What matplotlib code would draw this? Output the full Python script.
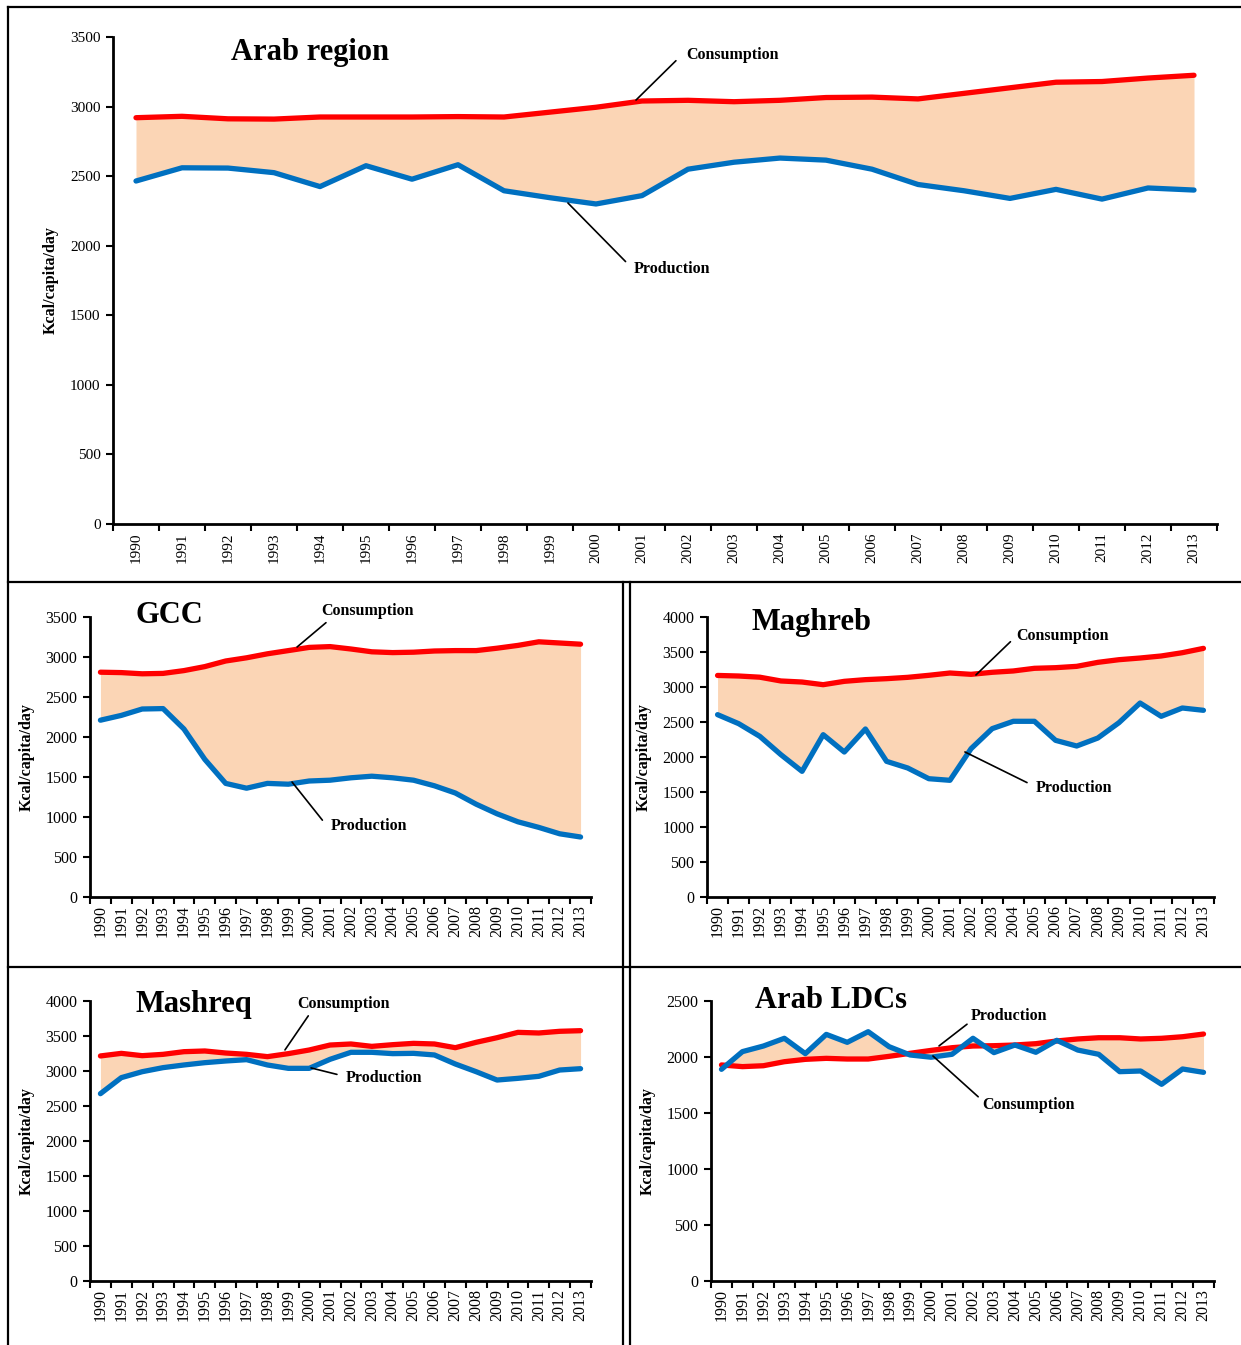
import numpy as np
import matplotlib.pyplot as plt
from matplotlib.lines import Line2D
from matplotlib.ticker import FixedLocator

plt.rcParams['font.family'] = ['Liberation Serif', 'DejaVu Serif']

years = [str(y) for y in range(1990, 2014)]

# Arab region
arab_cons = [2920, 2930, 2912, 2910, 2925, 2925, 2925, 2928, 2925, 2960, 2995, 3040,
             3045, 3035, 3045, 3065, 3068, 3055, 3095, 3135, 3175, 3180, 3205, 3225]
arab_prod = [2465, 2560, 2558, 2525, 2425, 2575, 2478, 2582, 2395, 2345, 2300, 2360,
             2550, 2600, 2630, 2615, 2550, 2440, 2395, 2340, 2405, 2335, 2415, 2400]

# GCC
gcc_cons = [2810, 2805, 2790, 2795, 2830, 2880, 2950, 2990, 3040, 3080, 3120, 3130,
            3100, 3065, 3055, 3060, 3075, 3080, 3080, 3110, 3145, 3190, 3175, 3160]
gcc_prod = [2210, 2270, 2350, 2355, 2100, 1720, 1420, 1360, 1420, 1410, 1450, 1460,
            1490, 1510, 1490, 1460, 1390, 1300, 1160, 1040, 940, 870, 790, 750]

# Maghreb
magh_cons = [3165, 3157, 3140, 3086, 3071, 3033, 3081, 3105, 3119, 3138, 3167, 3200,
             3181, 3210, 3229, 3267, 3276, 3295, 3352, 3390, 3414, 3443, 3490, 3552]
magh_prod = [2605, 2476, 2295, 2033, 1795, 2319, 2071, 2400, 1938, 1843, 1690, 1667,
             2119, 2405, 2510, 2510, 2238, 2157, 2271, 2490, 2771, 2581, 2700, 2667]

# Mashreq
mash_cons = [3215, 3252, 3219, 3238, 3276, 3286, 3257, 3238, 3205, 3248, 3300, 3371,
             3386, 3352, 3376, 3395, 3386, 3333, 3410, 3476, 3552, 3543, 3567, 3576]
mash_prod = [2676, 2905, 2990, 3048, 3086, 3119, 3143, 3162, 3086, 3038, 3038, 3167,
             3267, 3267, 3248, 3252, 3229, 3100, 2990, 2871, 2895, 2924, 3014, 3033]

# Arab LDCs
ldc_cons = [1929, 1914, 1922, 1958, 1979, 1988, 1982, 1982, 2006, 2033, 2059, 2083,
            2098, 2101, 2107, 2119, 2143, 2161, 2172, 2172, 2161, 2167, 2181, 2205]
ldc_prod = [1890, 2048, 2098, 2167, 2030, 2202, 2131, 2226, 2092, 2018, 1998, 2024,
            2167, 2039, 2107, 2042, 2149, 2062, 2024, 1869, 1875, 1756, 1893, 1863]

W, H = 1241, 1345
RED = '#FF0000'
BLUE = '#0070C0'
FILL = '#FBD5B5'

fig = plt.figure(figsize=(W / 100, H / 100), dpi=100)
fig.patch.set_facecolor('white')


def px_axes(l, t, r, b):
    # pixel box -> figure fraction
    return fig.add_axes([l / W, 1 - b / H, (r - l) / W, (b - t) / H])


def panel(ax, cons, prod, ymax, title, title_pos, fs_tick, notes):
    x = np.arange(len(years))
    ax.fill_between(x, cons, prod, color=FILL, linewidth=0)
    ax.plot(x, cons, color=RED, lw=3.8, solid_capstyle='round', solid_joinstyle='round')
    ax.plot(x, prod, color=BLUE, lw=3.8, solid_capstyle='round', solid_joinstyle='round')
    ax.set_xlim(-0.5, len(years) - 0.5)
    ax.set_ylim(0, ymax)
    ax.set_yticks(np.arange(0, ymax + 1, 500))
    ax.set_xticks(x)
    ax.set_xticklabels(years, rotation=90)
    ax.xaxis.set_minor_locator(FixedLocator(np.arange(-0.5, len(years), 1)))
    ax.tick_params(axis='x', which='major', length=0, pad=6, labelsize=fs_tick)
    ax.tick_params(axis='x', which='minor', length=5, width=1.5, direction='out')
    ax.tick_params(axis='y', length=5, width=1.5, direction='out', labelsize=fs_tick, pad=4)
    for s in ['top', 'right']:
        ax.spines[s].set_visible(False)
    for s in ['left', 'bottom']:
        ax.spines[s].set_linewidth(2)
    ax.set_ylabel('Kcal/capita/day', fontsize=11.5, fontweight='bold')
    ax.text(title_pos[0], title_pos[1], title, transform=ax.transAxes, fontsize=22,
            fontweight='bold', ha='left', va='center')
    for label, xy, xyt, rel in notes:
        ax.annotate(label, xy=xy, xytext=xyt, fontsize=11.5, fontweight='bold',
                    ha='left', va='center', annotation_clip=False,
                    arrowprops=dict(arrowstyle='-', color='black', lw=1.2,
                                    shrinkA=1, shrinkB=0, relpos=rel))


ax0 = px_axes(113, 37, 1217, 524)
panel(ax0, arab_cons, arab_prod, 3500, 'Arab region', (0.107, 0.969), 11,
      [('Consumption', (10.87, 3047), (11.96, 3371), (-0.1, 0.2)),
       ('Production', (9.39, 2307), (10.83, 1833), (-0.1, 0.9))])
ax0.yaxis.set_label_coords(-54 / 1104, 0.5)

ax1 = px_axes(90, 617, 591, 897)
panel(ax1, gcc_cons, gcc_prod, 3500, 'GCC', (0.09, 1.004), 11.5,
      [('Consumption', (9.42, 3125), (10.57, 3575), (0.1, 0.0)),
       ('Production', (9.18, 1437), (11.04, 887), (-0.1, 0.8))])
ax1.yaxis.set_label_coords(-55 / 501, 0.5)

ax2 = px_axes(707, 617, 1214, 897)
panel(ax2, magh_cons, magh_prod, 4000, 'Maghreb', (0.087, 0.982), 11.5,
      [('Consumption', (12.23, 3172), (14.13, 3729), (-0.05, 0.2)),
       ('Production', (11.71, 2072), (15.07, 1557), (-0.1, 0.8))])
ax2.yaxis.set_label_coords(-55 / 507, 0.5)

ax3 = px_axes(90, 1001, 591, 1281)
panel(ax3, mash_cons, mash_prod, 4000, 'Mashreq', (0.09, 0.986), 11.5,
      [('Consumption', (8.84, 3301), (9.42, 3958), (0.15, 0.0)),
       ('Production', (10.09, 3044), (11.76, 2901), (-0.1, 0.7))])
ax3.yaxis.set_label_coords(-55 / 501, 0.5)

ax4 = px_axes(711, 1001, 1214, 1281)
panel(ax4, ldc_cons, ldc_prod, 2500, 'Arab LDCs', (0.087, 1.0), 11.5,
      [('Production', (10.38, 2099), (11.9, 2366), (-0.02, 0.1)),
       ('Consumption', (10.09, 2009), (12.43, 1572), (-0.02, 0.9))])
ax4.yaxis.set_label_coords(-55 / 503, 0.5)

# panel borders
def border(x0, y0, x1, y1):
    fig.add_artist(Line2D([x0 / W, x1 / W], [1 - y0 / H, 1 - y1 / H],
                          color='black', lw=1.6, transform=fig.transFigure))

border(8, 7, 1241, 7)
border(8, 7, 8, 1345)
border(8, 582, 1241, 582)
border(623, 582, 623, 1345)
border(630, 582, 630, 1345)
border(8, 967, 1241, 967)

fig.savefig('out.png', dpi=100)
